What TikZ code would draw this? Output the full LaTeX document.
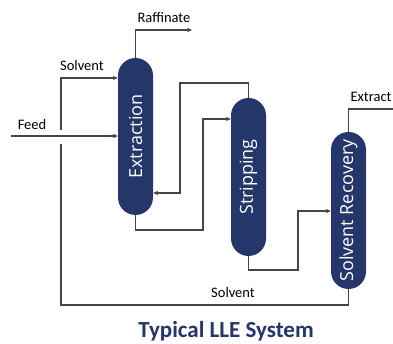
\documentclass[tikz,border=0pt]{standalone}
\usepackage{fontspec}
\setmainfont{Carlito}
\newfontfamily\colfont{Open Sans}
\usetikzlibrary{arrows.meta}
\definecolor{navy}{HTML}{24366A}
\definecolor{linegray}{HTML}{454545}
\begin{document}
\begin{tikzpicture}[x=1pt, y=-1pt,
      column/.style={fill=navy, rounded corners=17.5pt, minimum width=35pt,
                     minimum height=157pt, inner sep=0pt},
      coltext/.style={rotate=90, text=white, font=\colfont\fontsize{18}{18}\selectfont},
      flow/.style={line width=1.3pt, draw=linegray},
      arr/.style={flow, -{Stealth[length=5pt, width=4.5pt]}},
      lbl/.style={font=\fontsize{14.5}{14.5}\selectfont, inner sep=0pt},
    ]
    \useasboundingbox (0,0) rectangle (393,344);

    % Columns
    \node[column] (ext)   at (135.5,136.5) {};
    \node[column, minimum height=158pt] (strip) at (248.5,177) {};
    \node[column] (rec)   at (348.5,210.5) {};
    \node[coltext] (extlbl)   at (ext)   {Extraction};
    \node[coltext] (striplbl) at (strip) {Stripping};
    \node[coltext] (reclbl)   at (rec)   {Solvent Recovery};

    % Raffinate and feed
    \coordinate (raff) at (192,30);
    \draw[arr] (ext.north) |- (raff);
    \node[lbl] (rafflbl) at (164,18) {Raffinate};
    \coordinate (feed) at (11,136);
    \draw[arr] (feed) -- (feed -| ext.west);
    \node[lbl] (feedlbl) at (32,125) {Feed};

    % Solvent recycle to extraction
    \coordinate (jumplow) at (61,144);
    \coordinate (jumphigh) at (61,130);
    \coordinate (solvtop) at (61,78);
    \draw[flow] (rec.south) |- (61,305) -- (jumplow);
    \draw[arr] (jumphigh) -- (solvtop) -- (solvtop -| ext.west);
    \node[lbl] (solvlbl) at (82,66) {Solvent};
    \node[lbl] (solvbot) at (233,293) {Solvent};

    % Stripping overhead back to extraction
    \coordinate (rettop) at (180,83);
    \coordinate (retlow) at (180,193);
    \draw[arr] (strip.north) |- (rettop) -- (retlow) -- (retlow -| ext.east);

    % Extraction bottoms to stripping
    \coordinate (ebot) at (203,230);
    \coordinate (etop) at (203,119);
    \draw[arr] (ext.south) |- (ebot) -- (etop) -- (etop -| strip.west);

    % Stripping bottoms to recovery
    \coordinate (sbot) at (298,270);
    \coordinate (stop) at (298,211);
    \draw[arr] (strip.south) |- (sbot) -- (stop) -- (stop -| rec.west);

    % Extract
    \coordinate (extr) at (393,109);
    \draw[flow] (rec.north) |- (extr);
    \node[lbl] (extrlbl) at (371,97) {Extract};

    % Title
    \node[font=\bfseries\fontsize{23}{23}\selectfont, text=navy] (title) at (226,331) {Typical LLE System};
\end{tikzpicture}
\end{document}
